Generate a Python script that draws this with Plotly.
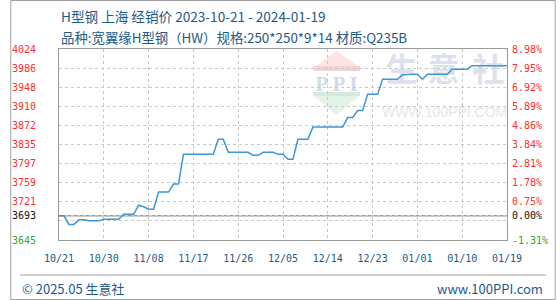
import plotly.graph_objects as go
import pandas as pd

# ---------------- data ----------------
start_date = "2023-10-21"
prices = [
    3693, 3693, 3676, 3676, 3685, 3685, 3683, 3683, 3683, 3686,
    3686, 3686, 3686, 3696, 3696, 3696, 3714, 3711, 3706, 3706,
    3740, 3740, 3740, 3756, 3756, 3815, 3815, 3815, 3815, 3815,
    3815, 3815, 3845, 3845, 3819, 3819, 3819, 3819, 3819, 3813,
    3813, 3819, 3819, 3819, 3815, 3815, 3805, 3805, 3845, 3845,
    3845, 3869, 3869, 3869, 3869, 3869, 3869, 3869, 3888, 3888,
    3902, 3902, 3934, 3934, 3934, 3964, 3964, 3964, 3964, 3973,
    3974, 3974, 3974, 3964, 3974, 3974, 3974, 3974, 3974, 3984,
    3984, 3984, 3984, 3991, 3991, 3991, 3991, 3991, 3991, 3991,
    3991,
]
dates = pd.date_range(start_date, periods=len(prices), freq="D")

base_price = 3693
grid_vals = [3645, 3682.9, 3720.8, 3758.7, 3796.6, 3834.5, 3872.4, 3910.3, 3948.2, 3986.1, 4024]
left_labels = ["3645", "", "3721", "3759", "3797", "3835", "3872", "3910", "3948", "3986", "4024"]
right_labels = ["-1.31%", "", "0.75%", "1.78%", "2.81%", "3.84%", "4.86%", "5.89%", "6.92%", "7.95%", "8.98%"]

x_tick_dates = ["2023-10-21", "2023-10-30", "2023-11-08", "2023-11-17", "2023-11-26", "2023-12-05",
                "2023-12-14", "2023-12-23", "2024-01-01", "2024-01-10", "2024-01-19"]
x_tick_labels = ["10/21", "10/30", "11/08", "11/17", "11/26", "12/05",
                 "12/14", "12/23", "01/01", "01/10", "01/19"]

title_line1 = "H型钢 上海 经销价 2023-10-21 - 2024-01-19"
title_line2 = "品种:宽翼缘H型钢（HW）规格:250*250*9*14 材质:Q235B"
footer_left = "© 2025.05 生意社"
footer_right = "www.100PPI.com"

# ---------------- styles ----------------
W, H = 560, 300
ML, MR, MT, MB = 50, 50, 49, 60
PW, PH = W - ML - MR, H - MT - MB
UP, DOWN, FLAT = "#ff2e2e", "#2eaa2e", "#111111"
BLUE_TXT = "#1c5a8a"
LINE = "#3a98d6"
TICK_FONT = dict(family="DejaVu Sans Mono", size=10)


def px(x):
    return (x - ML) / PW


def py(y):
    return (MT + PH - y) / PH


def col(v):
    return UP if v > base_price + 0.5 else (FLAT if abs(v - base_price) <= 0.5 else DOWN)


tick_vals = grid_vals + [base_price]
lt = [f"<span style='color:{col(v)}'>{t}</span>" if t else "" for v, t in zip(grid_vals, left_labels)]
lt.append(f"<span style='color:{FLAT}'>{base_price}</span>")
rt = [f"<span style='color:{col(v)}'>{t}</span>" if t else "" for v, t in zip(grid_vals, right_labels)]
rt.append(f"<span style='color:{FLAT}'>0.00%</span>")

fig = go.Figure()
fig.add_trace(go.Scatter(x=dates, y=prices, mode="lines",
                         line=dict(color=LINE, width=1.5), hoverinfo="skip", yaxis="y"))
fig.add_trace(go.Scatter(x=dates, y=prices, mode="lines",
                         line=dict(color="rgba(0,0,0,0)", width=0), hoverinfo="skip", yaxis="y2"))

yr = [grid_vals[0], grid_vals[-1]]
fig.update_layout(
    width=W, height=H, autosize=False,
    margin=dict(l=ML, r=MR, t=MT, b=MB, pad=0),
    paper_bgcolor="white", plot_bgcolor="white",
    showlegend=False,
    font=dict(family="Noto Sans CJK SC", color=BLUE_TXT),
    xaxis=dict(type="date", range=[x_tick_dates[0], x_tick_dates[-1]],
               tickvals=x_tick_dates, ticktext=x_tick_labels, tickfont=dict(color=BLUE_TXT, **TICK_FONT),
               showgrid=True, gridcolor="#c8c8c8", griddash="3px,3px", gridwidth=1,
               showline=True, linecolor="#9a9a9a", linewidth=1, mirror=True,
               ticks="", ticklabelstandoff=9, zeroline=False, fixedrange=True),
    yaxis=dict(range=yr, tickvals=tick_vals, ticktext=lt, tickfont=TICK_FONT,
               showgrid=True, gridcolor="#c8c8c8", griddash="3px,3px", gridwidth=1,
               showline=True, linecolor="#9a9a9a", linewidth=1, mirror=True,
               ticks="", ticklabelstandoff=20, zeroline=False, fixedrange=True),
    yaxis2=dict(range=yr, tickvals=tick_vals, ticktext=rt, tickfont=TICK_FONT,
                overlaying="y", side="right", showgrid=False, showline=False,
                ticks="", ticklabelstandoff=4, zeroline=False, fixedrange=True),
)

shapes = []
# outer frame
shapes.append(dict(type="rect", xref="paper", yref="paper", x0=px(0.5), x1=px(559.5), y0=py(299.5), y1=py(0.5),
                   line=dict(color="#a0a0a0", width=1), fillcolor="rgba(0,0,0,0)", layer="below"))
# footer separator
shapes.append(dict(type="line", xref="paper", yref="paper", x0=px(10), x1=px(550), y0=py(275), y1=py(275),
                   line=dict(color="#a0a0a0", width=1)))
# base line
shapes.append(dict(type="line", xref="paper", yref="y", x0=0, x1=1, y0=base_price, y1=base_price,
                   line=dict(color="#9a9a9a", width=1.5), layer="between"))
# watermark logo
shapes.append(dict(type="path", xref="paper", yref="paper", layer="below", line=dict(width=0),
                   fillcolor="#fbe4e4",
                   path=f"M {px(312)},{py(67)} L {px(335)},{py(51)} L {px(358)},{py(67)} Z"))
shapes.append(dict(type="rect", xref="paper", yref="paper", layer="below", line=dict(width=0),
                   fillcolor="#f6d3d3", x0=px(311), x1=px(359), y0=py(71), y1=py(66)))
shapes.append(dict(type="rect", xref="paper", yref="paper", layer="below", line=dict(width=0),
                   fillcolor="#d3ebd8", x0=px(311), x1=px(359), y0=py(96), y1=py(92)))
shapes.append(dict(type="path", xref="paper", yref="paper", layer="below", line=dict(width=0),
                   fillcolor="#e3f3e6",
                   path=f"M {px(312)},{py(96)} L {px(358)},{py(96)} L {px(335)},{py(115)} Z"))


def label_shape(cx, cy, w, h, text, size, color, family, weight="normal"):
    return dict(type="rect", xref="paper", yref="paper", layer="below",
                x0=px(cx - w / 2), x1=px(cx + w / 2), y0=py(cy + h / 2), y1=py(cy - h / 2),
                line=dict(width=0), fillcolor="rgba(0,0,0,0)",
                label=dict(text=text, textposition="middle center",
                           font=dict(size=size, color=color, family=family, weight=weight)))


shapes.append(label_shape(335, 82, 50, 20, "P P I", 21, "#d3dbea", "Liberation Serif", "bold"))
for cx, ch in zip([402, 445, 491], ["生", "意", "社"]):
    shapes.append(label_shape(cx, 72, 40, 40, ch, 32, "#dde1ec", "Noto Sans CJK SC", "bold"))
shapes.append(label_shape(446, 111, 130, 16, "WWW.100PPI.COM", 14, "#e6e6e6", "Liberation Sans"))
fig.update_layout(shapes=shapes)

ann = [
    dict(text=title_line1, x=px(50), y=py(16), font=dict(size=13.6, color=BLUE_TXT)),
    dict(text=title_line2, x=px(50), y=py(37), font=dict(size=13.4, color=BLUE_TXT)),
    dict(text=footer_left, x=px(10), y=py(288), font=dict(size=13, color=BLUE_TXT)),
    dict(text=footer_right, x=px(549), y=py(288), xanchor="right", font=dict(size=13, color=BLUE_TXT)),
]
for a in ann:
    a.setdefault("xanchor", "left")
    a.update(xref="paper", yref="paper", yanchor="middle", showarrow=False)
fig.update_layout(annotations=ann)

fig.write_html("out.html", config={"displayModeBar": False})
